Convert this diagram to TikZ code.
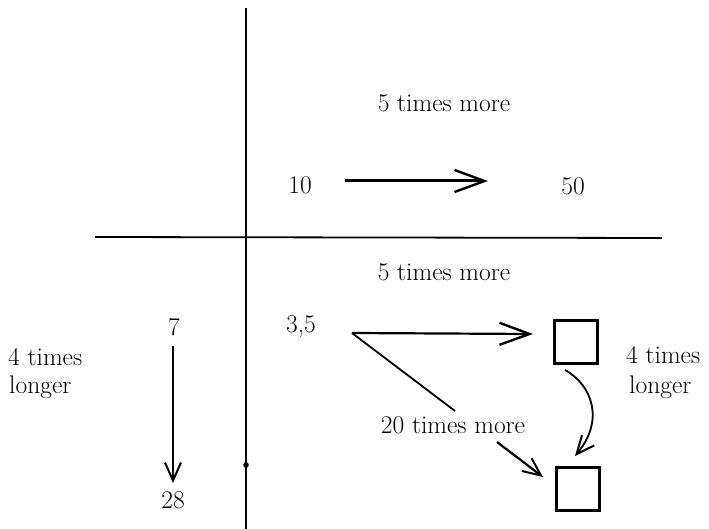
\documentclass[tikz,border=0pt]{standalone}
\usetikzlibrary{arrows.meta}
\begin{document}
\begin{tikzpicture}[x=1pt,y=-1pt,
  lbl/.style={font=\fontsize{25.5}{29}\selectfont, inner sep=0pt},
  barb/.style={-{Straight Barb[length=30pt,width=22pt,line width=2.4pt]}},
  smallbarb/.style={-{Straight Barb[length=18pt,width=16pt,line width=2pt]}},
  axis/.style={line width=1.8pt},
  sq/.style={draw, line width=2.4pt, minimum width=43pt, minimum height=43pt, inner sep=0pt}]
\useasboundingbox (0,0) rectangle (709,529);
% axes
\coordinate (vt) at (246,8);
\coordinate (vb) at (246,529);
\coordinate (hl) at (95,237);
\coordinate (hr) at (662,238);
\draw[axis] (vt) -- (vb);
\draw[axis] (hl) -- (hr);
\fill (246,465) circle (2.8pt);
% upper right quadrant
\node[lbl] (t1) at (444,103) {5 times more};
\node[lbl] (n10) at (300,185) {10};
\node[lbl] (n50) at (573,186) {50};
\coordinate (a1s) at (345,181);
\coordinate (a1e) at (488,181);
\draw[barb, line width=3pt] (a1s) -- (a1e);
% lower right quadrant
\node[lbl] (t2) at (444,272) {5 times more};
\node[lbl] (n35) at (301,327) {3,5};
\node[sq] (b1) at (576,342) {};
\node[sq] (b2) at (578,489) {};
\coordinate (s) at (352,333);
\coordinate (a2e) at (533,334);
\draw[barb, line width=2.2pt] (s) -- (a2e);
\coordinate (le) at (455,411);
\draw[line width=1.8pt] (s) -- (le);
\node[lbl] (t20) at (453,425) {20 times more};
\coordinate (a3s) at (497,442);
\coordinate (a3e) at (543,477);
\draw[smallbarb, line width=2.2pt] (a3s) -- (a3e);
\coordinate (cs) at (565,370);
\coordinate (ce) at (575,456);
\draw[smallbarb, line width=1.8pt] (cs) .. controls (592,385) and (605,420) .. (ce);
\node[lbl, anchor=west] (r1) at (626,355) {4 times};
\node[lbl, anchor=west] (r2) at (629,387) {longer};
% lower left quadrant
\node[lbl] (n7) at (174,327) {7};
\node[lbl] (n28) at (173,500) {28};
\coordinate (vs) at (173,346);
\coordinate (ve) at (173,483);
\draw[smallbarb, line width=2pt] (vs) -- (ve);
\node[lbl, anchor=west] (l1) at (8,357) {4 times};
\node[lbl, anchor=west] (l2) at (9,387) {longer};
\end{tikzpicture}
\end{document}
